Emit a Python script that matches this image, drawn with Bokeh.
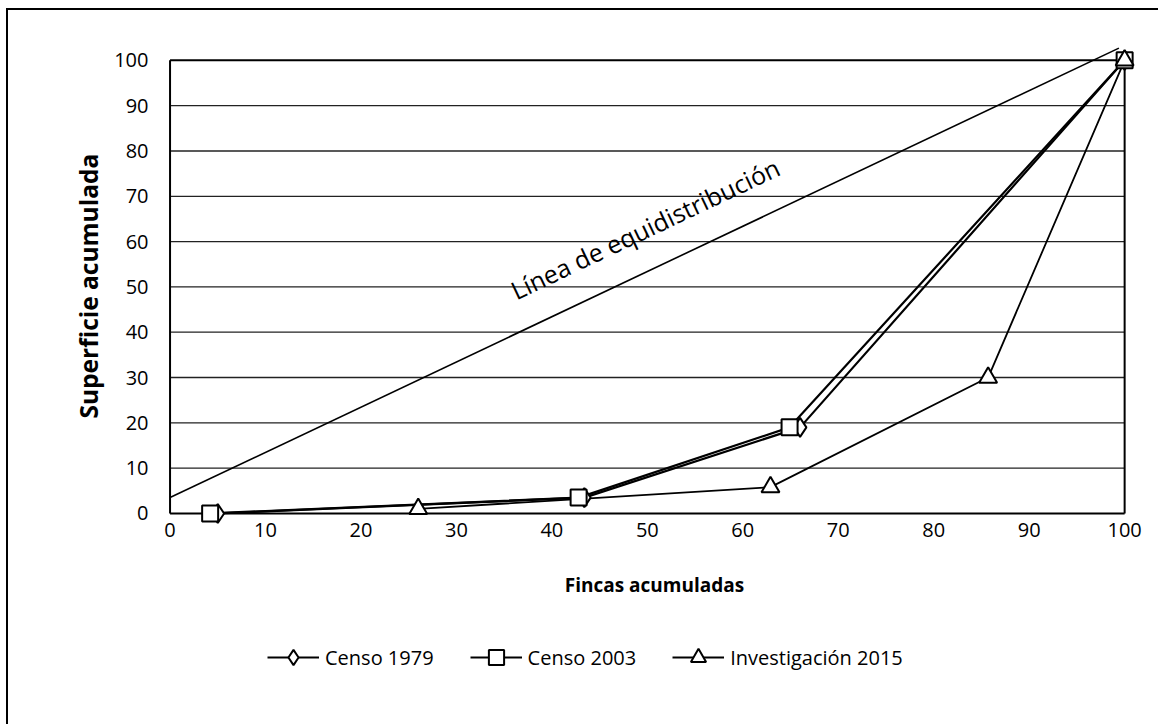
from bokeh.plotting import figure
from bokeh.models import Range1d, FixedTicker, Legend, LegendItem, Label, Title
from bokeh.embed import file_html
from bokeh.resources import INLINE

# ---- data ----
x_ticks = [0, 10, 20, 30, 40, 50, 60, 70, 80, 90, 100]
y_ticks = [0, 10, 20, 30, 40, 50, 60, 70, 80, 90, 100]

censo1979_x = [5.0, 43.4, 66.0, 100.0]
censo1979_y = [0.0, 3.5, 19.0, 100.0]

censo2003_x = [4.2, 42.8, 64.9, 100.0]
censo2003_y = [0.0, 3.5, 19.0, 100.0]

inv2015_x = [26.0, 62.9, 85.7, 100.0]
inv2015_y = [1.0, 5.8, 30.0, 100.0]

equi_x = [0.0, 99.4]
equi_y = [3.5, 102.7]

series_names = ["Censo 1979", "Censo 2003", "Investigación 2015"]
x_title = "Fincas acumuladas"
y_title = "Superficie acumulada"
equi_label = "Línea de equidistribución"

FONT = "Open Sans"

# frame extends below the plot box so that the legend can sit inside it
p = figure(
    output_backend="svg", toolbar_location=None,
    frame_width=988, frame_height=650,
    min_border_left=152, min_border_right=10, min_border_top=34, min_border_bottom=30,
    x_range=Range1d(-1, 102.5), y_range=Range1d(-39.96, 103.5),
    background_fill_color="white", border_fill_color="white",
)
p.styles = {"border-left": "2px solid black", "border-top": "2px solid black",
            "margin-left": "6px", "margin-top": "8px", "margin-bottom": "-20px"}
p.outline_line_color = None
p.xgrid.visible = False
p.ygrid.visible = False

# horizontal grid lines and plot box
x0, x1 = x_ticks[0], x_ticks[-1]
y0, y1 = y_ticks[0], y_ticks[-1]
p.segment(x0=[x0] * (len(y_ticks) - 2), x1=[x1] * (len(y_ticks) - 2),
          y0=y_ticks[1:-1], y1=y_ticks[1:-1], line_color="#222222", line_width=1.3)
p.segment(x0=[x0, x0, x0, x1], x1=[x1, x1, x0, x1], y0=[y0, y1, y0, y0], y1=[y0, y1, y1, y1],
          line_color="black", line_width=2)

# equidistribution line
p.line(equi_x, equi_y, line_color="black", line_width=1.6)
p.add_layout(Label(x=36.6, y=45.6, text=equi_label, angle=25.4, angle_units="deg",
                   text_font=FONT, text_font_size="25px", text_color="black"))

# series
l1 = p.line(censo1979_x, censo1979_y, line_color="black", line_width=2.2)
l2 = p.line(censo2003_x, censo2003_y, line_color="black", line_width=2.2)
l3 = p.line(inv2015_x, inv2015_y, line_color="black", line_width=1.8)
s1 = p.scatter(censo1979_x, censo1979_y, marker="diamond", size=19, fill_color="white",
               line_color="black", line_width=2)
s2 = p.scatter(censo2003_x, censo2003_y, marker="square", size=16, fill_color="white",
               line_color="black", line_width=2)
s3 = p.scatter(inv2015_x, inv2015_y, marker="triangle", size=18, fill_color="white",
               line_color="black", line_width=2)

# axes
for ax, ticks in ((p.xaxis, x_ticks), (p.yaxis, y_ticks)):
    ax.ticker = FixedTicker(ticks=ticks)
    ax.axis_line_color = None
    ax.major_tick_line_color = None
    ax.minor_tick_line_color = None
    ax.major_label_text_font = FONT
    ax.major_label_text_font_size = "20px"
    ax.major_label_text_color = "black"
    ax.axis_label_text_font = FONT
    ax.axis_label_text_font_style = "bold"
    ax.axis_label_text_color = "black"

p.xaxis.axis_label = x_title
p.xaxis.fixed_location = 0
p.xaxis.major_label_standoff = 4
p.yaxis.major_label_standoff = 6
p.xaxis.axis_label_text_font_size = "19px"
p.xaxis.axis_label_standoff = 31

# y title, placed along the 0-100 part of the frame
p.add_layout(Title(text=y_title, align="left", offset=276, standoff=14,
                   text_font=FONT, text_font_size="24.5px", text_font_style="bold",
                   text_color="black"), "left")

legend = Legend(
    items=[LegendItem(label=series_names[0], renderers=[l1, s1]),
           LegendItem(label=series_names[1], renderers=[l2, s2]),
           LegendItem(label=series_names[2], renderers=[l3, s3])],
    orientation="horizontal", location=(107, 18),
    label_text_font=FONT, label_text_font_size="20px", label_text_color="black",
    glyph_width=52, glyph_height=38, label_standoff=6, spacing=36,
    padding=0, margin=0, border_line_color=None, background_fill_alpha=0,
)
p.add_layout(legend)

open("out.html", "w").write(file_html(p, INLINE))
